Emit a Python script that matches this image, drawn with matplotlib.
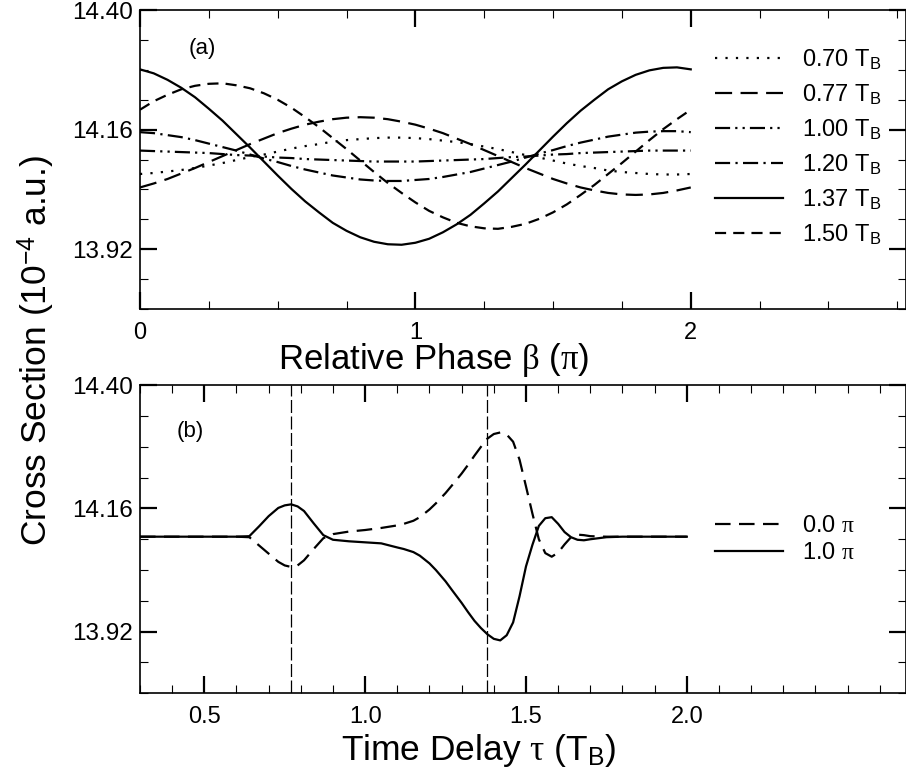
import numpy as np
import matplotlib
matplotlib.use("Agg")
import matplotlib.pyplot as plt
from matplotlib.ticker import FixedLocator, MultipleLocator, FormatStrFormatter

plt.rcParams['font.family'] = ['Liberation Sans', 'DejaVu Sans']
plt.rcParams['mathtext.fontset'] = 'custom'
plt.rcParams['mathtext.rm'] = 'Liberation Sans'
plt.rcParams['mathtext.it'] = 'Liberation Serif'

# ---- panel (a): cross section vs relative phase, one curve per delay ----
beta = [0.00, 0.05, 0.10, 0.15, 0.20, 0.25, 0.30, 0.35, 0.40, 0.45,
        0.50, 0.55, 0.60, 0.65, 0.70, 0.75, 0.80, 0.85, 0.90, 0.95,
        1.00, 1.05, 1.10, 1.15, 1.20, 1.25, 1.30, 1.35, 1.40, 1.45,
        1.50, 1.55, 1.60, 1.65, 1.70, 1.75, 1.80, 1.85, 1.90, 1.95, 2.00]
cs_070 = [14.071, 14.073, 14.076, 14.079, 14.083, 14.088, 14.093, 14.099, 14.105, 14.110,
          14.116, 14.122, 14.127, 14.131, 14.136, 14.139, 14.141, 14.143, 14.144, 14.144,
          14.143, 14.141, 14.138, 14.135, 14.131, 14.126, 14.121, 14.115, 14.109, 14.104,
          14.098, 14.092, 14.087, 14.083, 14.078, 14.075, 14.073, 14.071, 14.070, 14.070, 14.071]
cs_077 = [14.044, 14.052, 14.061, 14.072, 14.083, 14.095, 14.107, 14.119, 14.131, 14.142,
          14.153, 14.162, 14.170, 14.176, 14.181, 14.184, 14.185, 14.184, 14.181, 14.176,
          14.170, 14.162, 14.153, 14.142, 14.131, 14.119, 14.107, 14.095, 14.083, 14.072,
          14.061, 14.052, 14.044, 14.038, 14.033, 14.030, 14.029, 14.030, 14.033, 14.038, 14.044]
cs_100 = [14.118, 14.117, 14.116, 14.115, 14.114, 14.113, 14.111, 14.109, 14.108, 14.106,
          14.104, 14.103, 14.101, 14.100, 14.099, 14.098, 14.097, 14.096, 14.096, 14.096,
          14.096, 14.097, 14.098, 14.099, 14.100, 14.101, 14.103, 14.105, 14.106, 14.108,
          14.110, 14.111, 14.113, 14.114, 14.115, 14.116, 14.117, 14.118, 14.118, 14.118, 14.118]
cs_120 = [14.155, 14.153, 14.149, 14.145, 14.139, 14.132, 14.125, 14.118, 14.110, 14.102,
          14.095, 14.087, 14.080, 14.074, 14.068, 14.064, 14.060, 14.058, 14.057, 14.057,
          14.059, 14.061, 14.065, 14.070, 14.075, 14.082, 14.089, 14.096, 14.104, 14.112,
          14.119, 14.127, 14.134, 14.140, 14.146, 14.150, 14.154, 14.156, 14.157, 14.157, 14.155]
cs_137 = [14.281, 14.273, 14.260, 14.244, 14.225, 14.202, 14.178, 14.151, 14.124, 14.096,
          14.068, 14.041, 14.016, 13.994, 13.973, 13.957, 13.944, 13.935, 13.930, 13.929,
          13.933, 13.941, 13.954, 13.970, 13.989, 14.012, 14.036, 14.063, 14.090, 14.118,
          14.146, 14.173, 14.198, 14.220, 14.241, 14.257, 14.270, 14.279, 14.284, 14.285, 14.281]
cs_150 = [14.200, 14.217, 14.230, 14.241, 14.248, 14.252, 14.253, 14.249, 14.243, 14.233,
          14.220, 14.204, 14.185, 14.165, 14.143, 14.121, 14.098, 14.075, 14.053, 14.033,
          14.014, 13.997, 13.984, 13.973, 13.966, 13.962, 13.961, 13.965, 13.971, 13.981,
          13.994, 14.010, 14.029, 14.049, 14.071, 14.093, 14.116, 14.139, 14.161, 14.181, 14.200]
labels_a = ['0.70 T$_\\mathrm{B}$', '0.77 T$_\\mathrm{B}$', '1.00 T$_\\mathrm{B}$',
            '1.20 T$_\\mathrm{B}$', '1.37 T$_\\mathrm{B}$', '1.50 T$_\\mathrm{B}$']

# ---- panel (b): cross section vs time delay for two phases ----
tau = [0.30, 0.40, 0.50, 0.60, 0.64, 0.67, 0.70, 0.73, 0.75, 0.77, 0.79, 0.81, 0.84, 0.87,
       0.90, 0.95, 1.00, 1.05, 1.10, 1.12, 1.15, 1.17, 1.20, 1.22, 1.25, 1.27, 1.30, 1.32,
       1.34, 1.36, 1.38, 1.40, 1.42, 1.44, 1.46, 1.48, 1.50, 1.52, 1.54, 1.56, 1.58, 1.60,
       1.62, 1.64, 1.66, 1.68, 1.70, 1.75, 1.80, 1.90, 2.00]
cs_ph0 = [14.105, 14.105, 14.105, 14.105, 14.104, 14.088, 14.072, 14.056, 14.049, 14.046,
          14.049, 14.059, 14.081, 14.102, 14.110, 14.115, 14.118, 14.122, 14.127, 14.130,
          14.136, 14.143, 14.158, 14.170, 14.190, 14.205, 14.228, 14.245, 14.263, 14.280,
          14.296, 14.305, 14.308, 14.304, 14.290, 14.255, 14.203, 14.150, 14.100, 14.073,
          14.066, 14.074, 14.090, 14.104, 14.109, 14.108, 14.106, 14.105, 14.105, 14.105,
          14.105]
cs_ph1 = [14.105, 14.105, 14.105, 14.105, 14.106, 14.125, 14.145, 14.161, 14.166, 14.168,
          14.164, 14.155, 14.131, 14.108, 14.099, 14.096, 14.094, 14.092, 14.084, 14.081,
          14.075, 14.068, 14.053, 14.040, 14.018, 14.001, 13.976, 13.958, 13.941, 13.927,
          13.915, 13.906, 13.903, 13.913, 13.938, 13.989, 14.047, 14.089, 14.126, 14.141,
          14.143, 14.130, 14.114, 14.104, 14.099, 14.098, 14.100, 14.104, 14.105, 14.105,
          14.105]
labels_b = ['0.0 $\\pi$', '1.0 $\\pi$']
tau_marks = [0.77, 1.38]

yticks_major = [13.92, 14.16, 14.40]

LW = 1.6
styles_a = [(0, (1, 3.7)),                    # dotted
            (0, (7.7, 3.8)),                  # long dash
            (0, (6.8, 2.3, 1, 2.3, 1, 2.3)),  # dash dot dot
            (0, (6.8, 2.4, 1, 2.4)),          # dash dot
            '-',                              # solid
            (0, (5.0, 3.2))]                  # short dash

fig = plt.figure(figsize=(9.06, 7.80), dpi=100)
ax1 = fig.add_axes([0.1545, 0.6038, 0.8450, 0.3833])
ax2 = fig.add_axes([0.1545, 0.1112, 0.8450, 0.3949])

series_a = [cs_070, cs_077, cs_100, cs_120, cs_137, cs_150]
for ys, ls, lab in zip(series_a, styles_a, labels_a):
    ax1.plot(beta, ys, color='black', lw=LW, linestyle=ls, label=lab, dash_capstyle='butt')

for t in tau_marks:
    ax2.axvline(t, color='black', lw=0.9, linestyle=(0, (10.4, 2.8)))
ax2.plot(tau, cs_ph0, color='black', lw=LW, linestyle=(0, (7.0, 3.8)), label=labels_b[0])
ax2.plot(tau, cs_ph1, color='black', lw=LW, linestyle='-', label=labels_b[1])

ax1.set_xlim(0, 2.78)
ax2.set_xlim(0.3, 2.68)
for ax in (ax1, ax2):
    ax.set_ylim(13.80, 14.40)
    ax.yaxis.set_major_locator(FixedLocator(yticks_major))
    ax.yaxis.set_minor_locator(MultipleLocator(0.06))
    ax.yaxis.set_major_formatter(FormatStrFormatter('%.2f'))
    ax.tick_params(which='both', direction='in', top=True, right=True)
    ax.tick_params(which='major', length=12, width=1.6, labelsize=17.5, color='black')
    ax.tick_params(which='minor', length=6, width=0.8)
    ax.tick_params(axis='y', which='major', pad=5)
    ax.tick_params(axis='x', which='major', pad=9, labelsize=17)
    for sp in ax.spines.values():
        sp.set_linewidth(1.2)

ax1.xaxis.set_major_locator(FixedLocator([0, 1, 2]))
ax1.xaxis.set_minor_locator(MultipleLocator(0.25))
ax1.xaxis.set_major_formatter(FormatStrFormatter('%d'))
ax2.xaxis.set_major_locator(FixedLocator([0.5, 1.0, 1.5, 2.0]))
ax2.xaxis.set_minor_locator(MultipleLocator(0.1))
ax2.xaxis.set_major_formatter(FormatStrFormatter('%.1f'))

ax1.set_xlabel('Relative Phase $\\beta$ ($\\pi$)', fontsize=25)
ax1.xaxis.set_label_coords(0.383, -0.108)
ax2.set_xlabel('Time Delay $\\tau$ (T$_\\mathrm{B}$)', fontsize=25.5)
ax2.xaxis.set_label_coords(0.442, -0.125)

fig.text(0.041, 0.551, 'Cross Section (10$^{\\mathrm{-4}}$ a.u.)', rotation=90,
         fontsize=25.5, ha='center', va='center')

ax1.text(0.175, 14.323, '(a)', fontsize=16, ha='left', va='center')
ax2.text(0.414, 14.31, '(b)', fontsize=16, ha='left', va='center')

ax1.legend(loc='upper left', bbox_to_anchor=(0.751, 0.875), frameon=False, fontsize=17,
           handlelength=2.88, handletextpad=0.79, labelspacing=0.455, borderpad=0,
           borderaxespad=0)
ax2.legend(loc='upper left', bbox_to_anchor=(0.751, 0.578), frameon=False, fontsize=17,
           handlelength=2.88, handletextpad=0.79, labelspacing=0.22, borderpad=0,
           borderaxespad=0)

fig.savefig('out.png', dpi=100)
